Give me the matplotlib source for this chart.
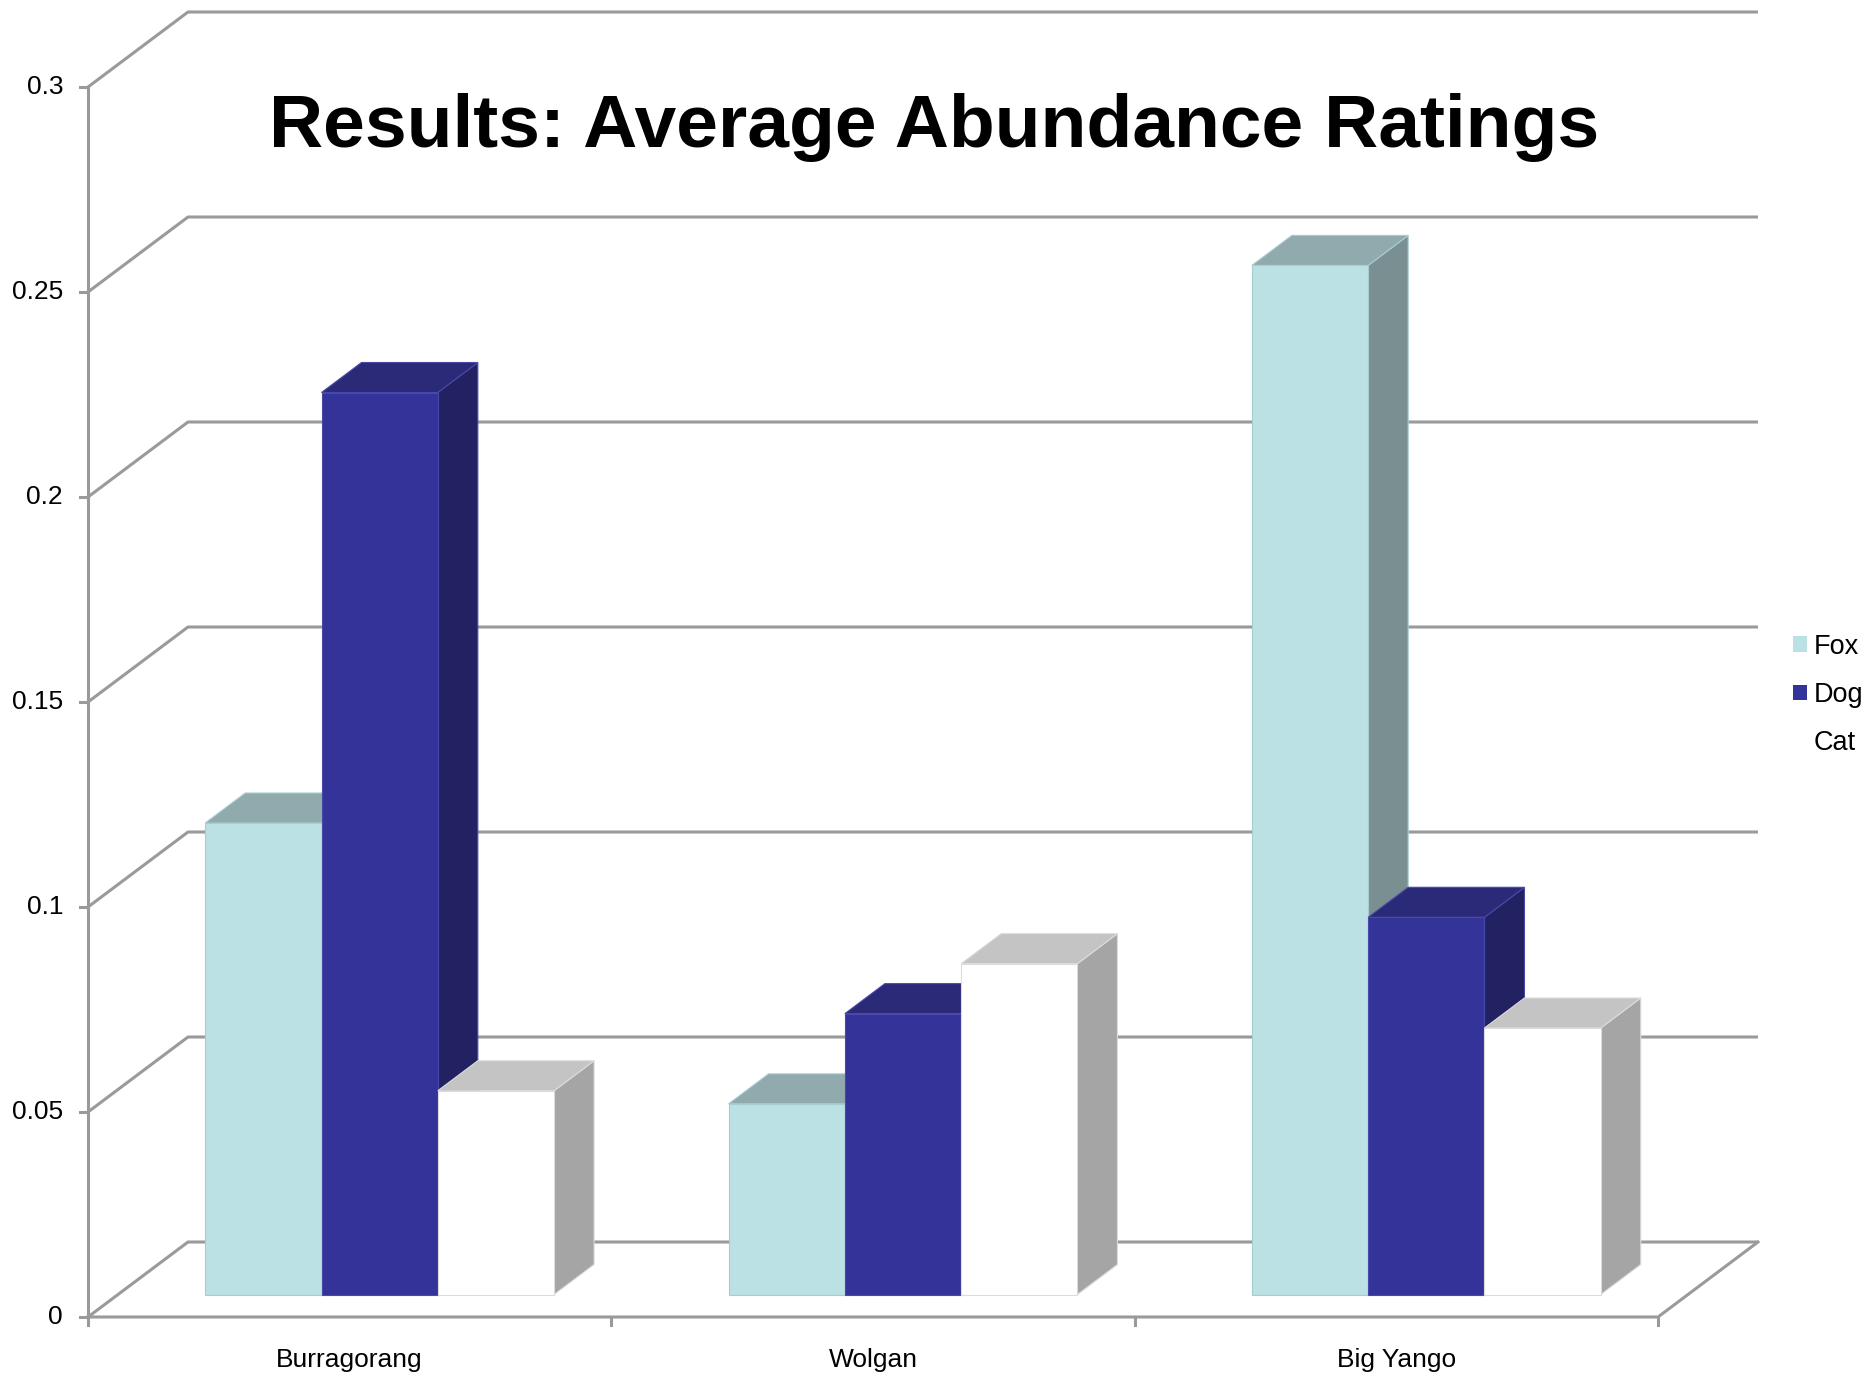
import matplotlib
matplotlib.use('Agg')
import matplotlib.pyplot as plt
from matplotlib.patches import Polygon, Patch

SITES = ['Burragorang', 'Wolgan', 'Big Yango']
SPECIES = ['Fox', 'Dog', 'Cat']
FOX = [0.115, 0.0465, 0.251]
DOG = [0.220, 0.0685, 0.092]
CAT = [0.0497, 0.0807, 0.065]
Y_TICKS = [0, 0.05, 0.1, 0.15, 0.2, 0.25, 0.3]
Y_TICK_LABELS = ['0', '0.05', '0.1', '0.15', '0.2', '0.25', '0.3']
TITLE = 'Results: Average Abundance Ratings'

# front, top, side face colours
COLORS = {
    'Fox': ('#bce1e4', '#90aaad', '#7a8f91'),
    'Dog': ('#333399', '#2a2a78', '#222262'),
    'Cat': ('#ffffff', '#c4c4c4', '#a5a5a5'),
}
EDGES = {'Fox': '#a8cdd0', 'Dog': '#4848a8', 'Cat': '#dcdcdc'}
GRID = '#9a9a9a'

# layout in output pixels
W, H = 1864, 1376
X0, Y0 = 88, 1317          # origin of the front plane
PX_CAT = 523.33            # pixels per category
PX_VAL = 4100.0            # pixels per unit of value
DEPTH_PX = (100, 75)       # wall depth offset
FRONT, BACK = 0.3, 0.7     # bar depth as fraction of wall depth
GAP = 1.5                  # gap width as multiple of bar width

plt.rcParams['font.family'] = ['Liberation Sans', 'DejaVu Sans']

fig = plt.figure(figsize=(W / 100, H / 100), dpi=100)
ax = fig.add_axes([0, 0, 1, 1])
ax.set_xlim(-X0 / PX_CAT, (W - X0) / PX_CAT)
ax.set_ylim((Y0 - H) / PX_VAL, Y0 / PX_VAL)
ax.axis('off')

DX = DEPTH_PX[0] / PX_CAT
DY = DEPTH_PX[1] / PX_VAL
ncat = len(SITES)
top = Y_TICKS[-1]

# walls and gridlines
for v, lab in zip(Y_TICKS, Y_TICK_LABELS):
    ax.plot([0, DX, ncat + DX], [v, v + DY, v + DY], color=GRID, lw=2.2,
            zorder=1, solid_capstyle='butt')
    ax.plot([-8 / PX_CAT, 0], [v, v], color=GRID, lw=2.2, zorder=1)
    ax.text(-25 / PX_CAT, v, lab, ha='right', va='center', fontsize=19)
ax.plot([0, 0], [0, top], color=GRID, lw=2.2, zorder=1)
ax.plot([0, ncat, ncat + DX], [0, 0, DY], color=GRID, lw=2.2, zorder=1)
for i in range(ncat + 1):
    ax.plot([i, i], [0, -8 / PX_VAL], color=GRID, lw=2.2, zorder=1)
for i, site in enumerate(SITES):
    ax.text(i + 0.5, -43 / PX_VAL, site, ha='center', va='center', fontsize=19)

# bars
bw = 1.0 / (len(SPECIES) + GAP)
fx, fy = FRONT * DX, FRONT * DY
bx, by = BACK * DX, BACK * DY
values = {'Fox': FOX, 'Dog': DOG, 'Cat': CAT}
for i in range(ncat):
    for j, sp in enumerate(SPECIES):
        v = values[sp][i]
        l = i + GAP / 2 * bw + j * bw
        r = l + bw
        c_front, c_top, c_side = COLORS[sp]
        side = [(r + fx, fy), (r + bx, by), (r + bx, v + by), (r + fx, v + fy)]
        lid = [(l + fx, v + fy), (r + fx, v + fy), (r + bx, v + by), (l + bx, v + by)]
        front = [(l + fx, fy), (r + fx, fy), (r + fx, v + fy), (l + fx, v + fy)]
        for pts, col in [(side, c_side), (lid, c_top), (front, c_front)]:
            ax.add_patch(Polygon(pts, closed=True, facecolor=col,
                                 edgecolor=EDGES[sp], lw=0.8, zorder=2))

fig.text(934 / W, 1 - 128 / H, TITLE, ha='center', va='center',
         fontsize=54, fontweight='bold')

handles = [Patch(facecolor=COLORS[sp][0], edgecolor='none', label=sp)
           for sp in SPECIES]
fig.legend(handles=handles, loc='center left',
           bbox_to_anchor=(1793 / W, 1 - 695 / H), frameon=False,
           fontsize=19.5, handlelength=0.52, handleheight=0.52,
           handletextpad=0.25, labelspacing=0.82, borderpad=0,
           borderaxespad=0)

fig.savefig('out.png', dpi=100)
